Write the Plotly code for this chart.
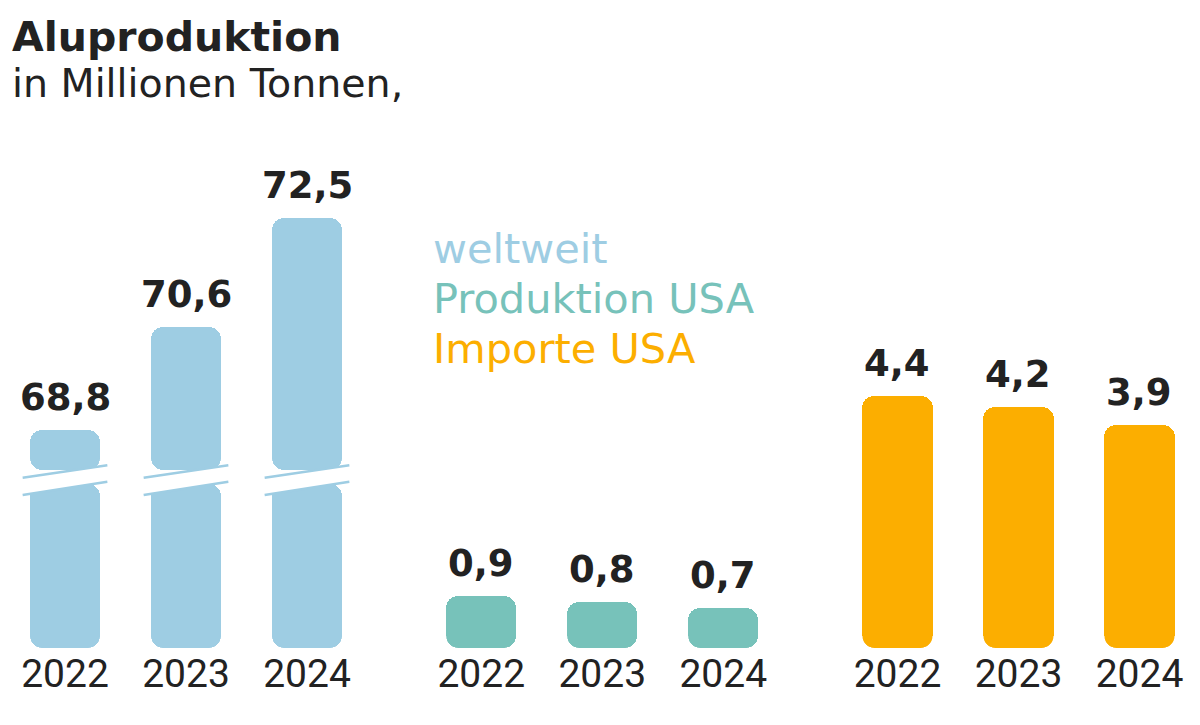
import plotly.graph_objects as go

# ---------------- data ----------------
years = ["2022", "2023", "2024"]
weltweit = [68.8, 70.6, 72.5]
produktion_usa = [0.9, 0.8, 0.7]
importe_usa = [4.4, 4.2, 3.9]
legend_labels = ["weltweit", "Produktion USA", "Importe USA"]
title = "Aluproduktion"
subtitle = "in Millionen Tonnen,"

# ---------------- style ----------------
C_BLUE = "#9ecde3"
C_TEAL = "#77c2ba"
C_ORANGE = "#fcae00"
C_TEXT = "#222222"
FONT = "DejaVu Sans"
FONT_YEAR = "Roboto"

# page has an 8px body margin -> figure drawn 8px in from the window edge
W, H = 1184, 709
MT, MB = 0, 69
PLOT_H = H - MT - MB
PX_PER_UNIT = 57.3
Y_MAX = PLOT_H / PX_PER_UNIT
BREAK_OFFSET = 65.0          # axis break for the world bars
GROUP_GAP = 1.44             # distance between groups (in bar slots)
BAR_W = 0.579
X0_PX, SLOT_PX = 57, 121
X_RANGE = [-X0_PX / SLOT_PX, (W - X0_PX) / SLOT_PX]
BAR_W_PX = BAR_W * SLOT_PX
RADIUS = 12

# break geometry (data units)
SEG_LO_TOP = 2.87
SEG_HI_BOT = 3.10
LINE_HALF = 0.35
UP_L, UP_R = 2.97, 3.19
LO_L, LO_R = 2.67, 2.90

def positions(g):
    return [g * (2 + GROUP_GAP) + i for i in range(len(years))]

fig = go.Figure()
shapes = []

def corner_masks(xs, bottoms):
    """white masks that round the bottom corners of bars (pixel-sized, anchored on data)."""
    r, k = RADIUS, 0.5523
    left = (f"M -1,-1 L {r},-1 L {r},0 C {r - k * r},0 0,{r - k * r} 0,{r} L -1,{r} Z")
    right = (f"M 1,-1 L {-r},-1 L {-r},0 C {-r + k * r},0 0,{r - k * r} 0,{r} L 1,{r} Z")
    for x, b in zip(xs, bottoms):
        for xa, p in [(x - BAR_W / 2, left), (x + BAR_W / 2, right)]:
            shapes.append(dict(type="path", xref="x", yref="y", xsizemode="pixel",
                               ysizemode="pixel", xanchor=xa, yanchor=b, path=p,
                               fillcolor="white", line=dict(width=0), layer="above"))

def rounded_bars(xs, lows, highs, color):
    fig.add_trace(go.Bar(x=xs, y=[hi - lo for lo, hi in zip(lows, highs)], base=lows,
                         width=BAR_W,
                         marker=dict(color=color, cornerradius=RADIUS, line_width=0),
                         hoverinfo="skip", showlegend=False))
    corner_masks(xs, lows)

# world bars (broken axis)
xw = positions(0)
disp_w = [v - BREAK_OFFSET for v in weltweit]
rounded_bars(xw, [0] * 3, [SEG_LO_TOP] * 3, C_BLUE)
rounded_bars(xw, [SEG_HI_BOT] * 3, disp_w, C_BLUE)

xp = positions(1)
rounded_bars(xp, [0] * 3, produktion_usa, C_TEAL)
xi = positions(2)
rounded_bars(xi, [0] * 3, importe_usa, C_ORANGE)

for x in xw:
    xl, xr = x - LINE_HALF, x + LINE_HALF
    shapes.append(dict(type="path", xref="x", yref="y",
                       path=f"M {xl},{LO_L} L {xr},{LO_R} L {xr},{UP_R} L {xl},{UP_L} Z",
                       fillcolor="white", line=dict(width=0), layer="above"))
    for yl, yr in [(UP_L, UP_R), (LO_L, LO_R)]:
        shapes.append(dict(type="line", xref="x", yref="y", x0=xl, y0=yl, x1=xr, y1=yr,
                           line=dict(color=C_BLUE, width=2.5), layer="above"))

def fmt(v):
    return f"{v:.1f}".replace(".", ",")

annotations = []
for xs, shown, vals in [(xw, disp_w, weltweit), (xp, produktion_usa, produktion_usa),
                        (xi, importe_usa, importe_usa)]:
    for x, s, v in zip(xs, shown, vals):
        annotations.append(dict(x=x, y=s, xref="x", yref="y", text=f"<b>{fmt(v)}</b>",
                                showarrow=False, yanchor="bottom", yshift=9,
                                font=dict(family=FONT, size=37, color=C_TEXT)))

def py(p):
    return (PLOT_H - (p - MT)) / PLOT_H

annotations.append(dict(x=2 / W, y=py(3), xref="paper", yref="paper", xanchor="left",
                        yanchor="top", text=f"<b>{title}</b>", showarrow=False,
                        font=dict(family=FONT, size=41, color=C_TEXT)))
annotations.append(dict(x=2 / W, y=py(50), xref="paper", yref="paper", xanchor="left",
                        yanchor="top", text=subtitle, showarrow=False,
                        font=dict(family=FONT, size=39.5, color=C_TEXT)))
for k, (lab, col) in enumerate(zip(legend_labels, [C_BLUE, C_TEAL, C_ORANGE])):
    annotations.append(dict(x=423 / W, y=py(214 + 50 * k), xref="paper", yref="paper",
                            xanchor="left", yanchor="top", text=lab, showarrow=False,
                            font=dict(family=FONT, size=41.5, color=col)))

fig.update_layout(
    width=W, height=H, margin=dict(l=0, r=0, t=MT, b=MB),
    paper_bgcolor="white", plot_bgcolor="white",
    barmode="overlay", bargap=0, showlegend=False,
    shapes=shapes, annotations=annotations,
    xaxis=dict(range=X_RANGE, tickmode="array", tickvals=xw + xp + xi,
               ticktext=years * 3, showgrid=False, zeroline=False, showline=False,
               ticks="", ticklabelstandoff=-1,
               tickfont=dict(family=FONT_YEAR, size=39, color=C_TEXT), fixedrange=True),
    yaxis=dict(range=[0, Y_MAX], visible=False, fixedrange=True),
)

fig.write_html("out.html", config={"displayModeBar": False})
